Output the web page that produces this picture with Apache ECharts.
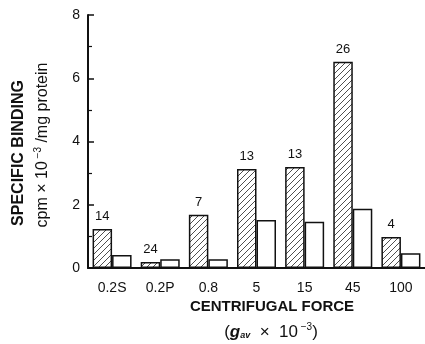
<!DOCTYPE html>
<html><head><meta charset="utf-8">
<script src="https://cdn.jsdelivr.net/npm/echarts@6/dist/echarts.min.js"></script>
<style>html,body{margin:0;padding:0;background:#fff}#c{width:425px;height:344px}</style>
</head><body><div id="c"></div>
<script>
const categories = ['0.2S', '0.2P', '0.8', '5', '15', '45', '100'];
const hatchedValues = [1.23, 0.19, 1.68, 3.13, 3.19, 6.52, 0.98];
const openValues = [0.41, 0.28, 0.28, 1.52, 1.46, 1.87, 0.47];
const counts = ['14', '24', '7', '13', '13', '26', '4'];
const yTicks = [0, 2, 4, 6, 8];

function hatch() {
  const c = document.createElement('canvas');
  c.width = 6; c.height = 6;
  const g = c.getContext('2d');
  g.fillStyle = '#fff'; g.fillRect(0, 0, 6, 6);
  g.strokeStyle = '#222'; g.lineWidth = 0.8;
  g.beginPath();
  g.moveTo(0, 6); g.lineTo(6, 0);
  g.moveTo(-3, 3); g.lineTo(3, -3);
  g.moveTo(3, 9); g.lineTo(9, 3);
  g.stroke();
  return c;
}

const chart = echarts.init(document.getElementById('c'));
const FONT = 'Liberation Sans';
chart.setOption({
  animation: false,
  textStyle: { fontFamily: FONT, color: '#111' },
  grid: { left: 88, top: 15, width: 343, height: 253 },
  xAxis: {
    type: 'category', data: categories,
    axisLine: { lineStyle: { color: '#111', width: 2 } },
    axisTick: { show: false },
    axisLabel: { fontSize: 14, color: '#111', margin: 13, fontFamily: FONT }
  },
  yAxis: {
    type: 'value', min: yTicks[0], max: yTicks[yTicks.length - 1], interval: 2,
    axisLine: { show: true, lineStyle: { color: '#111', width: 2 } },
    axisTick: { show: true, inside: true, length: 6, lineStyle: { color: '#111', width: 1.5 } },
    minorTick: { show: true, splitNumber: 2, length: 4, lineStyle: { color: '#111', width: 1.2 } },
    splitLine: { show: false },
    axisLabel: { fontSize: 14, color: '#111', margin: 8, fontFamily: FONT }
  },
  series: [
    {
      type: 'bar', data: hatchedValues, barWidth: 19.5, barGap: '0%',
      itemStyle: { color: { image: hatch(), repeat: 'repeat' }, borderColor: '#111', borderWidth: 1.5 },
      label: {
        show: true, position: 'top', distance: 6, fontSize: 13, color: '#111', fontFamily: FONT,
        formatter: p => counts[p.dataIndex]
      }
    },
    {
      type: 'bar', data: openValues, barWidth: 19.5, barGap: '0%',
      itemStyle: { color: '#fff', borderColor: '#111', borderWidth: 1.5 }
    }
  ],
  graphic: [
    {
      type: 'text', x: 272, y: 307,
      style: { text: 'CENTRIFUGAL FORCE', font: 'bold 15px "Liberation Sans"', fill: '#111', align: 'center', verticalAlign: 'middle' }
    },
    {
      type: 'text', x: 271, y: 332,
      style: {
        text: '({g|g}{sub|av}  ×  10{sup| −3})',
        fill: '#111', font: '17px "Liberation Sans"', align: 'center', verticalAlign: 'middle',
        rich: {
          g: { fontStyle: 'italic', fontWeight: 'bold', fontSize: 17, fontFamily: FONT, fill: '#111' },
          sub: { fontSize: 9, fontStyle: 'italic', fontWeight: 'bold', fontFamily: FONT, padding: [7, 0, 0, 0], fill: '#111' },
          sup: { fontSize: 10, fontFamily: FONT, padding: [0, 0, 9, 0], fill: '#111' }
        }
      }
    },
    {
      type: 'text', x: 19, y: 153, rotation: Math.PI / 2,
      style: { text: 'SPECIFIC BINDING', font: 'bold 16px "Liberation Sans"', fill: '#111', align: 'center', verticalAlign: 'middle' }
    },
    {
      type: 'text', x: 43, y: 145, rotation: Math.PI / 2,
      style: {
        text: 'cpm × 10{sup| −3} /mg protein',
        font: '16px "Liberation Sans"', fill: '#111', align: 'center', verticalAlign: 'middle',
        rich: { sup: { fontSize: 10, fontFamily: FONT, padding: [0, 0, 9, 0], fill: '#111' } }
      }
    }
  ]
});
</script></body></html>
